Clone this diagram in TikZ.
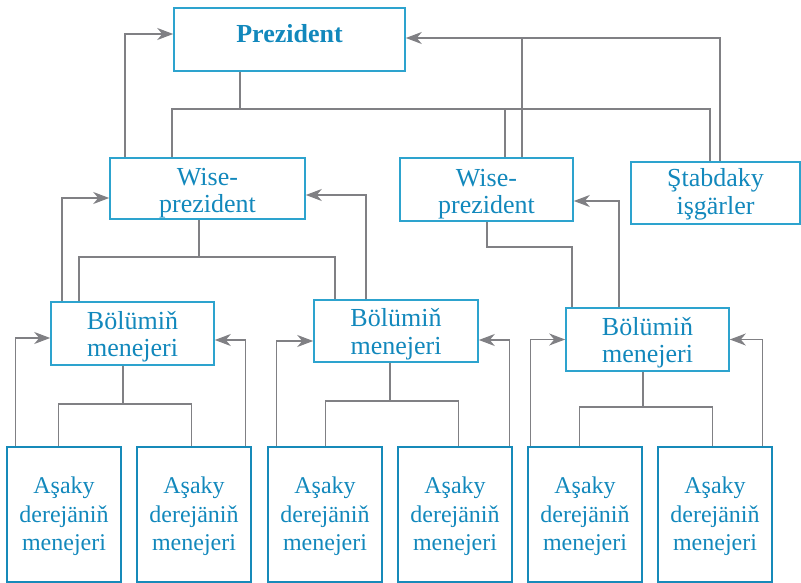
\documentclass[tikz,border=0pt]{standalone}
\usepackage{fontspec}
\setmainfont{Liberation Serif}
\usetikzlibrary{arrows.meta,calc}
\definecolor{boxblue}{RGB}{45,163,206}
\definecolor{deepblue}{RGB}{22,138,185}
\definecolor{txtblue}{RGB}{18,136,188}
\definecolor{linegray}{RGB}{128,128,132}
\newcommand{\boxtxt}[2]{\raisebox{#1}[\height][\depth]{\begin{tabular}{@{}c@{}}#2\end{tabular}}}
\begin{document}
\begin{tikzpicture}[x=1pt,y=-1pt,
  topbox/.style={draw=boxblue, line width=1.6pt, inner sep=0pt, text=txtblue, font=\fontsize{26}{27.5}\selectfont},
  lowbox/.style={draw=deepblue, line width=2.8pt, inner sep=0pt, text=txtblue, font=\fontsize{24}{28.5}\selectfont, minimum width=114pt, minimum height=135pt},
  link/.style={draw=linegray, line width=1.6pt},
  arr/.style={link, -{Stealth[length=16pt,width=12pt,inset=5pt]}}]
\useasboundingbox (0,0) rectangle (801,583);
% nodes
\node[topbox, minimum width=231pt, minimum height=63pt] (pres) at (289.5,39.5) {\boxtxt{2pt}{\bfseries Prezident}};
\node[topbox, minimum width=195pt, minimum height=61pt] (wp1) at (207.5,188.5) {\boxtxt{-5pt}{Wise-\\prezident}};
\node[topbox, minimum width=173pt, minimum height=63pt] (wp2) at (486.5,189.5) {\boxtxt{-5pt}{Wise-\\prezident}};
\node[topbox, minimum width=169pt, minimum height=62pt] (stab) at (715.5,193) {\boxtxt{-2pt}{Ştabdaky\\işgärler}};
\node[topbox, minimum width=163pt, minimum height=63pt] (b1) at (132.5,333.5) {\boxtxt{-4pt}{Bölümiň\\menejeri}};
\node[topbox, minimum width=164pt, minimum height=62pt] (b2) at (396,331) {\boxtxt{-4pt}{Bölümiň\\menejeri}};
\node[topbox, minimum width=163pt, minimum height=63pt] (b3) at (647.5,339.5) {\boxtxt{-4pt}{Bölümiň\\menejeri}};
\node[lowbox] (l1) at (64,514.5) {\boxtxt{-2pt}{Aşaky\\derejäniň\\menejeri}};
\node[lowbox] (l2) at (194,514.5) {\boxtxt{-2pt}{Aşaky\\derejäniň\\menejeri}};
\node[lowbox] (l3) at (325,514.5) {\boxtxt{-2pt}{Aşaky\\derejäniň\\menejeri}};
\node[lowbox] (l4) at (455,514.5) {\boxtxt{-2pt}{Aşaky\\derejäniň\\menejeri}};
\node[lowbox] (l5) at (585,514.5) {\boxtxt{-2pt}{Aşaky\\derejäniň\\menejeri}};
\node[lowbox] (l6) at (715,514.5) {\boxtxt{-2pt}{Aşaky\\derejäniň\\menejeri}};
% top tree
\coordinate (pA) at ($(pres.south west)+(67,0)$);
\coordinate (busA) at ($(pA)+(0,37)$);
\draw[link] (pA) -- (busA);
\draw[link] ($(wp1.north west)+(63,0)$) |- (busA) -| ($(stab.north west)+(80,0)$);
\coordinate (w2a) at ($(wp2.north west)+(106,0)$);
\draw[link] (w2a) -- (w2a |- busA);
% arrows into president
\draw[arr] ($(wp1.north west)+(16,0)$) |- ([yshift=5.5pt]pres.west);
\coordinate (pE) at ([yshift=1.5pt]pres.east);
\coordinate (w2b) at ($(wp2.north west)+(123,0)$);
\draw[arr] ($(stab.north west)+(90,0)$) |- (pE);
\draw[link] (w2b) -- (w2b |- pE);
% wp1 tree
\coordinate (w1s) at ($(wp1.south west)+(90,0)$);
\coordinate (busB) at ($(w1s)+(0,37)$);
\draw[link] (w1s) -- (busB);
\draw[link] ($(b1.north west)+(29,0)$) |- (busB) -| ($(b2.north west)+(22,0)$);
\draw[arr] ($(b1.north west)+(12,0)$) |- ([yshift=-9.5pt]wp1.west);
\draw[arr] ($(b2.north west)+(53,0)$) |- ([yshift=-6.5pt]wp1.east);
% wp2 tree
\coordinate (w2s) at ($(wp2.south west)+(88,0)$);
\draw[link] (w2s) -- ++(0,25) -| ($(b3.north west)+(7,0)$);
\draw[arr] ($(b3.north west)+(54,0)$) |- ([yshift=-11.5pt]wp2.east);
% b1 tree
\coordinate (b1s) at ($(b1.south west)+(73,0)$);
\coordinate (busC) at ($(b1s)+(0,38)$);
\draw[link] (b1s) -- (busC);
\draw[link] ($(l1.north west)+(53,0)$) |- (busC) -| ($(l2.north west)+(56,0)$);
\draw[arr] ($(l1.north west)+(10,0)$) |- ([yshift=-4.5pt]b1.west);
\draw[arr] ($(l2.north west)+(110,0)$) |- ([yshift=-6.5pt]b1.east);
% b2 tree
\coordinate (b2s) at ($(b2.south west)+(77,0)$);
\coordinate (busD) at ($(b2s)+(0,38)$);
\draw[link] (b2s) -- (busD);
\draw[link] ($(l3.north west)+(59,0)$) |- (busD) -| ($(l4.north west)+(62,0)$);
\draw[arr] ($(l3.north west)+(10,0)$) |- ([yshift=-10pt]b2.west);
\draw[arr] ($(l4.north west)+(113,0)$) |- ([yshift=-9pt]b2.east);
% b3 tree
\coordinate (b3s) at ($(b3.south west)+(78,0)$);
\coordinate (busE) at ($(b3s)+(0,35)$);
\draw[link] (b3s) -- (busE);
\draw[link] ($(l5.north west)+(53,0)$) |- (busE) -| ($(l6.north west)+(56,0)$);
\draw[arr] ($(l5.north west)+(4,0)$) |- (b3.west);
\draw[arr] ($(l6.north west)+(106,0)$) |- (b3.east);
\end{tikzpicture}
\end{document}
